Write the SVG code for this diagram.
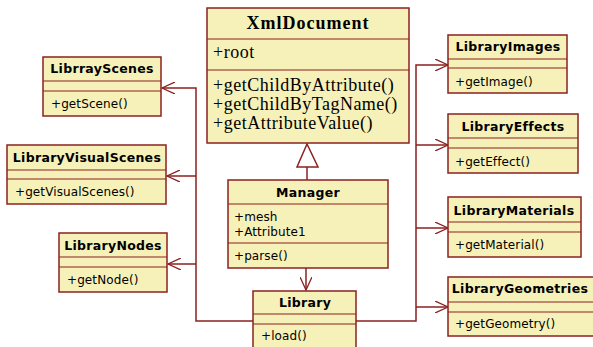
<svg xmlns="http://www.w3.org/2000/svg" width="593" height="347" viewBox="0 0 593 347">
<defs>
<style>
.box{fill:#f6f1b9;stroke:#8c2020;stroke-width:1.5}
.div{stroke:#8c2020;stroke-width:1.2}
.t{font-family:"DejaVu Sans",Verdana,sans-serif;font-size:12.5px;font-weight:bold;fill:#000;text-anchor:middle;letter-spacing:0.3px}
.m{font-family:"DejaVu Sans",Verdana,sans-serif;font-size:12px;fill:#000;letter-spacing:0.1px}
.st{font-family:"Liberation Serif","Times New Roman",serif;font-size:18px;font-weight:bold;fill:#000;text-anchor:middle;letter-spacing:1px}
.sm{font-family:"Liberation Serif","Times New Roman",serif;font-size:18px;fill:#000;letter-spacing:0.5px}
.c{fill:none;stroke:#8c2020;stroke-width:1.5}
</style>
<marker id="open" viewBox="0 0 14 12" refX="13" refY="6" markerWidth="14" markerHeight="12" markerUnits="userSpaceOnUse" orient="auto">
<path d="M0,0 L13,6 L0,12" fill="none" stroke="#8c2020" stroke-width="1.3"/>
</marker>
</defs>

<g id="connectors">
<polyline class="c" points="253,321 196,321 196,88 162,88" marker-end="url(#open)"/>
<line class="c" x1="196" y1="176" x2="167" y2="176" marker-end="url(#open)"/>
<line class="c" x1="196" y1="264" x2="168" y2="264" marker-end="url(#open)"/>
<polyline class="c" points="356,321 416,321 416,65 448,65" marker-end="url(#open)"/>
<line class="c" x1="416" y1="145" x2="448" y2="145" marker-end="url(#open)"/>
<line class="c" x1="416" y1="228" x2="448" y2="228" marker-end="url(#open)"/>
<line class="c" x1="416" y1="307" x2="448" y2="307" marker-end="url(#open)"/>
<line class="c" x1="306" y1="268" x2="306" y2="290" marker-end="url(#open)"/>
<line class="c" x1="307" y1="180" x2="307" y2="167"/>
<polygon points="307,144 297,167 318,167" fill="#fff" stroke="#8c2020" stroke-width="1.5"/>
</g>

<g id="XmlDocument">
<rect class="box" x="207" y="8" width="202" height="135"/>
<line class="div" x1="207" y1="39" x2="409" y2="39"/>
<line class="div" x1="207" y1="70" x2="409" y2="70"/>
<text class="st" x="308" y="29">XmlDocument</text>
<text class="sm" x="213" y="58">+root</text>
<text class="sm" x="213" y="91">+getChildByAttribute()</text>
<text class="sm" x="213" y="110">+getChildByTagName()</text>
<text class="sm" x="213" y="129">+getAttributeValue()</text>
</g>

<g id="Manager">
<rect class="box" x="228" y="180" width="160" height="88"/>
<line class="div" x1="228" y1="204" x2="388" y2="204"/>
<line class="div" x1="228" y1="243" x2="388" y2="243"/>
<text class="t" x="308" y="197">Manager</text>
<text class="m" x="234" y="221">+mesh</text>
<text class="m" x="234" y="236">+Attribute1</text>
<text class="m" x="234" y="260">+parse()</text>
</g>

<g id="Library">
<rect class="box" x="253" y="291" width="103" height="62"/>
<line class="div" x1="253" y1="314" x2="356" y2="314"/>
<line class="div" x1="253" y1="324" x2="356" y2="324"/>
<text class="t" x="305" y="307">Library</text>
<text class="m" x="261" y="340">+load()</text>
</g>

<g id="LibrrayScenes">
<rect class="box" x="43" y="57" width="118" height="59"/>
<line class="div" x1="43" y1="81" x2="161" y2="81"/>
<line class="div" x1="43" y1="91" x2="161" y2="91"/>
<text class="t" x="102" y="73">LibrrayScenes</text>
<text class="m" x="51" y="108">+getScene()</text>
</g>

<g id="LibraryVisualScenes">
<rect class="box" x="7" y="145" width="159" height="59"/>
<line class="div" x1="7" y1="170" x2="166" y2="170"/>
<line class="div" x1="7" y1="179" x2="166" y2="179"/>
<text class="t" x="87" y="162">LibraryVisualScenes</text>
<text class="m" x="15" y="196">+getVisualScenes()</text>
</g>

<g id="LibraryNodes">
<rect class="box" x="59" y="233" width="108" height="59"/>
<line class="div" x1="59" y1="257" x2="167" y2="257"/>
<line class="div" x1="59" y1="267" x2="167" y2="267"/>
<text class="t" x="113" y="250">LibraryNodes</text>
<text class="m" x="67" y="284">+getNode()</text>
</g>

<g id="LibraryImages">
<rect class="box" x="448" y="35" width="119" height="58"/>
<line class="div" x1="448" y1="59" x2="567" y2="59"/>
<line class="div" x1="448" y1="68" x2="567" y2="68"/>
<text class="t" x="508" y="51">LibraryImages</text>
<text class="m" x="455" y="86">+getImage()</text>
</g>

<g id="LibraryEffects">
<rect class="box" x="448" y="114" width="130" height="59"/>
<line class="div" x1="448" y1="138" x2="578" y2="138"/>
<line class="div" x1="448" y1="148" x2="578" y2="148"/>
<text class="t" x="513" y="131">LibraryEffects</text>
<text class="m" x="455" y="166">+getEffect()</text>
</g>

<g id="LibraryMaterials">
<rect class="box" x="448" y="197" width="133" height="60"/>
<line class="div" x1="448" y1="222" x2="581" y2="222"/>
<line class="div" x1="448" y1="232" x2="581" y2="232"/>
<text class="t" x="514" y="215">LibraryMaterials</text>
<text class="m" x="455" y="249">+getMaterial()</text>
</g>

<g id="LibraryGeometries">
<rect class="box" x="448" y="277" width="150" height="59"/>
<line class="div" x1="448" y1="302" x2="598" y2="302"/>
<line class="div" x1="448" y1="312" x2="598" y2="312"/>
<text class="t" x="520" y="293">LibraryGeometries</text>
<text class="m" x="455" y="328">+getGeometry()</text>
</g>
</svg>
